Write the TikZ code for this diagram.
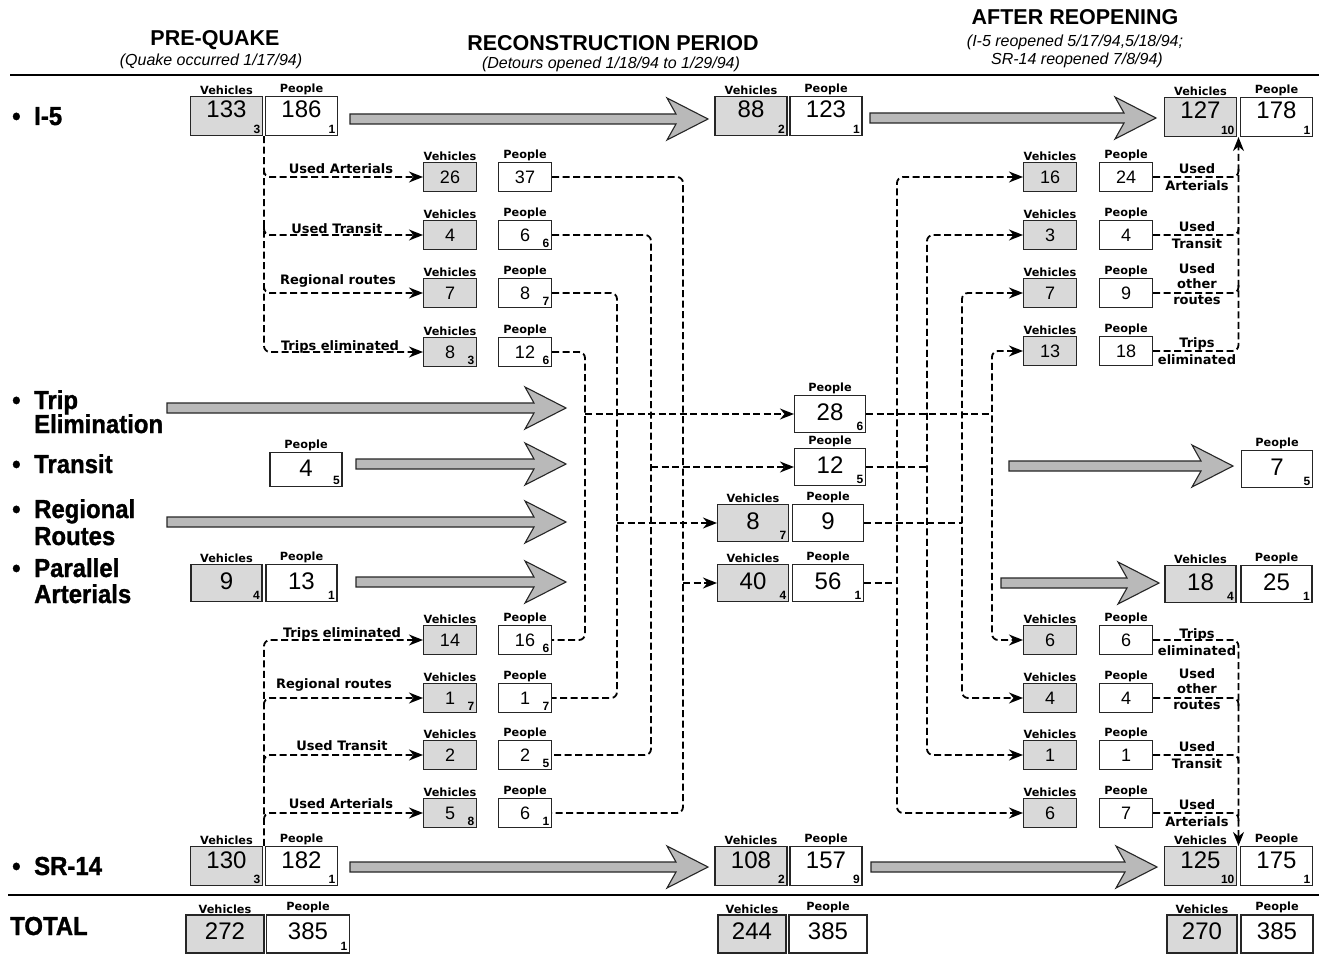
\documentclass[tikz,border=0pt]{standalone}
\usepackage{fontspec}
\setmainfont{Liberation Sans}
\newfontfamily\dvs{DejaVu Sans}
\newfontfamily\condb[FakeStretch=0.92,FakeBold=1.2]{Liberation Sans Bold}
\usetikzlibrary{arrows.meta,calc}

\newcommand\fnBig{\fontsize{24}{26}\selectfont}
\newcommand\fnSml{\fontsize{18}{20}\selectfont}
\newcommand\fnSub{\bfseries\fontsize{12}{12}\selectfont}
\newcommand\fnLab{\dvs\bfseries\fontsize{11.3}{12}\selectfont}
\newcommand\fnBr{\dvs\bfseries\fontsize{13}{14}\selectfont}
\newcommand\fnRow{\condb\fontsize{26}{28}\selectfont}
\newcommand\fnHd{\bfseries\fontsize{21.5}{23}\selectfont}
\newcommand\fnSh{\itshape\fontsize{16}{18}\selectfont}

\tikzset{
 box/.style={draw=black!85, line width=1.1pt, inner sep=0pt},
 vf/.style={fill=gray!30},
 pf/.style={fill=white},
 bigb/.style={box, minimum width=72, minimum height=39, font=\fnBig, text height=17pt, text depth=13pt},
 midb/.style={box, minimum width=71, minimum height=37, font=\fnBig, text height=17pt, text depth=4pt},
 totb/.style={box, minimum height=38, font=\fnBig, text height=17pt, text depth=6pt},
 smb/.style={box, minimum width=53, minimum height=29, font=\fnSml},
 lab/.style={font=\fnLab, inner sep=1pt},
 vl/.style={label={[lab]above:Vehicles}},
 pl/.style={label={[lab]above:People}},
 subl/.style={anchor=south east, font=\fnSub, inner sep=2.5pt},
 sb/.style={label={[subl]south east:#1}},
 dl/.style={line width=1.8pt, dash pattern=on 7pt off 3.5pt, rounded corners=6pt},
 fatarr/.style={draw=black!85, line width=1.1pt, fill=gray!55, line join=miter},
 brl/.style={font=\fnBr, anchor=base, inner sep=0pt},
 rl2/.style={font=\dvs\bfseries\fontsize{13}{17.5}\selectfont, align=center, inner sep=0pt},
 rl3/.style={font=\dvs\bfseries\fontsize{13}{15.5}\selectfont, align=center, inner sep=0pt},
 rowlab/.style={font=\fnRow, anchor=base west, inner sep=0pt},
 hd/.style={font=\fnHd, inner sep=0pt},
 shd/.style={font=\fnSh, inner sep=0pt},
}

\newcommand\fatarrow[3]{\draw[fatarr] (#1,#3+5) -- (#2-32,#3+5) -- (#2-41,#3+21) -- (#2,#3) -- (#2-41,#3-21) -- (#2-32,#3-5) -- (#1,#3-5) -- cycle;}

\begin{document}
\begin{tikzpicture}[x=1pt,y=-1pt,>={Stealth[length=14pt,width=11pt]}]
\fill[white] (0,0) rectangle (1320,955);
\path[use as bounding box] (0,0) rectangle (1320,955);

% headers
\node[hd] (h1) at (215,40) {PRE-QUAKE};
\node[shd] (h1s) at (211,61) {(Quake occurred 1/17/94)};
\node[hd] (h2) at (613,43) {RECONSTRUCTION PERIOD};
\node[shd] (h2s) at (611,64) {(Detours opened 1/18/94 to 1/29/94)};
\node[hd] (h3) at (1075,17) {AFTER REOPENING};
\node[shd] (h3s) at (1075,42) {(I-5 reopened 5/17/94,5/18/94;};
\node[shd] (h3t) at (1077,60) {SR-14 reopened 7/8/94)};
\draw[line width=2.6pt] (10,75) -- (1319,75);
\draw[line width=2.6pt] (8,895) -- (1319,895);

% row labels
\node[rowlab] (b1) at (12,125) {•}; \node[rowlab] (r1) at (34,125) {I-5};
\node[rowlab] (b2) at (12,409) {•}; \node[rowlab] (r2) at (34,409) {Trip};
\node[rowlab] (r2b) at (34,433) {Elimination};
\node[rowlab] (b3) at (12,473) {•}; \node[rowlab] (r3) at (34,473) {Transit};
\node[rowlab] (b4) at (12,518) {•}; \node[rowlab] (r4) at (34,518) {Regional};
\node[rowlab] (r4b) at (34,545) {Routes};
\node[rowlab] (b5) at (12,577) {•}; \node[rowlab] (r5) at (34,577) {Parallel};
\node[rowlab] (r5b) at (34,603) {Arterials};
\node[rowlab] (b6) at (12,875) {•}; \node[rowlab] (r6) at (34,875) {SR-14};
\node[rowlab] (r7) at (10,935) {TOTAL};

% fat arrows
\fatarrow{350}{708}{119}
\fatarrow{870}{1156}{118}
\fatarrow{167}{566}{408}
\fatarrow{356}{566}{464}
\fatarrow{167}{566}{522}
\fatarrow{356}{566}{582}
\fatarrow{1009}{1233}{466}
\fatarrow{1001}{1159}{583}
\fatarrow{350}{708}{867}
\fatarrow{871}{1157}{867}

% I-5 row
\node[bigb,vf,vl,sb=3] (v133) at (226.5,116) {133};
\node[bigb,pf,pl,sb=1] (p186) at (301.5,116) {186};
\node[bigb,vf,vl,sb=2] (v88) at (751,116) {88};
\node[bigb,pf,pl,sb=1] (p123) at (826,116) {123};
\node[bigb,vf,vl,sb=10] (v127) at (1200.5,117) {127};
\node[bigb,pf,pl,sb=1] (p178) at (1276.5,117) {178};

% SR-14 row
\node[bigb,vf,vl,sb=3] (v130) at (226.5,866) {130};
\node[bigb,pf,pl,sb=1] (p182) at (301.5,866) {182};
\node[bigb,vf,vl,sb=2] (v108) at (751,866) {108};
\node[bigb,pf,pl,sb=9] (p157) at (826,866) {157};
\node[bigb,vf,vl,sb=10] (v125) at (1200.5,866) {125};
\node[bigb,pf,pl,sb=1] (p175) at (1276.5,866) {175};

% totals
\node[totb,vf,vl,minimum width=78] (v272) at (225,934) {272};
\node[totb,pf,pl,sb=1,minimum width=83] (p385a) at (308,934) {385};
\node[totb,vf,vl,minimum width=68] (v244) at (752,934) {244};
\node[totb,pf,pl,minimum width=78] (p385b) at (828,934) {385};
\node[totb,vf,vl,minimum width=70] (v270) at (1202,934) {270};
\node[totb,pf,pl,minimum width=72] (p385c) at (1277,934) {385};

% middle rows
\node[midb,pf,pl,sb=5,minimum width=72,minimum height=34] (p4) at (306,469.5) {4};
\node[midb,vf,vl,sb=4] (v9) at (226.5,583) {9};
\node[midb,pf,pl,sb=1] (p13) at (301.5,583) {13};
\node[midb,pf,pl,sb=6] (p28) at (830,414) {28};
\node[midb,pf,pl,sb=5] (p12r) at (830,467) {12};
\node[midb,vf,vl,sb=7] (v8r) at (753,523) {8};
\node[midb,pf,pl] (p9r) at (828,523) {9};
\node[midb,vf,vl,sb=4] (v40) at (753,583) {40};
\node[midb,pf,pl,sb=1] (p56) at (828,583) {56};
\node[midb,pf,pl,sb=5] (p7) at (1277,469) {7};
\node[midb,vf,vl,sb=4] (v18) at (1200.5,584) {18};
\node[midb,pf,pl,sb=1] (p25) at (1276.5,584) {25};

% top-left small boxes
\node[smb,vf,vl] (tlv1) at (450,177) {26};
\node[smb,pf,pl] (tlp1) at (525,177) {37};
\node[smb,vf,vl] (tlv2) at (450,235) {4};
\node[smb,pf,pl,sb=6] (tlp2) at (525,235) {6};
\node[smb,vf,vl] (tlv3) at (450,293) {7};
\node[smb,pf,pl,sb=7] (tlp3) at (525,293) {8};
\node[smb,vf,vl,sb=3] (tlv4) at (450,352) {8};
\node[smb,pf,pl,sb=6] (tlp4) at (525,352) {12};

% bottom-left small boxes
\node[smb,vf,vl] (blv1) at (450,640) {14};
\node[smb,pf,pl,sb=6] (blp1) at (525,640) {16};
\node[smb,vf,vl,sb=7] (blv2) at (450,698) {1};
\node[smb,pf,pl,sb=7] (blp2) at (525,698) {1};
\node[smb,vf,vl] (blv3) at (450,755) {2};
\node[smb,pf,pl,sb=5] (blp3) at (525,755) {2};
\node[smb,vf,vl,sb=8] (blv4) at (450,813) {5};
\node[smb,pf,pl,sb=1] (blp4) at (525,813) {6};

% top-right small boxes
\node[smb,vf,vl] (trv1) at (1050,177) {16};
\node[smb,pf,pl] (trp1) at (1126,177) {24};
\node[smb,vf,vl] (trv2) at (1050,235) {3};
\node[smb,pf,pl] (trp2) at (1126,235) {4};
\node[smb,vf,vl] (trv3) at (1050,293) {7};
\node[smb,pf,pl] (trp3) at (1126,293) {9};
\node[smb,vf,vl] (trv4) at (1050,351) {13};
\node[smb,pf,pl] (trp4) at (1126,351) {18};

% bottom-right small boxes
\node[smb,vf,vl] (brv1) at (1050,640) {6};
\node[smb,pf,pl] (brp1) at (1126,640) {6};
\node[smb,vf,vl] (brv2) at (1050,698) {4};
\node[smb,pf,pl] (brp2) at (1126,698) {4};
\node[smb,vf,vl] (brv3) at (1050,755) {1};
\node[smb,pf,pl] (brp3) at (1126,755) {1};
\node[smb,vf,vl] (brv4) at (1050,813) {6};
\node[smb,pf,pl] (brp4) at (1126,813) {7};

% split points
\coordinate (i5s) at ($(v133.south east)!0.5!(p186.south west)$);
\coordinate (srs) at ($(v130.north east)!0.5!(p182.north west)$);
\coordinate (i5j) at ($(v127.south east)!0.5!(p178.south west)$);
\coordinate (srj) at ($(v125.north east)!0.5!(p175.north west)$);
\coordinate (cA) at (585,0);
\coordinate (cB) at (617,0);
\coordinate (cC) at (651,0);
\coordinate (cD) at (683,0);
\coordinate (cE) at (897,0);
\coordinate (cF) at (927,0);
\coordinate (cG) at (962,0);
\coordinate (cH) at (992,0);

% I-5 split to the left small boxes
\draw[dl,->] (i5s) |- (tlv4.west);
\draw[dl,->] ($(i5s |- tlv1.west)+(0,-8)$) |- (tlv1.west);
\draw[dl,->] ($(i5s |- tlv2.west)+(0,-8)$) |- (tlv2.west);
\draw[dl,->] ($(i5s |- tlv3.west)+(0,-8)$) |- (tlv3.west);
% SR-14 split
\draw[dl,->] (srs) |- (blv1.west);
\draw[dl,->] ($(srs |- blv2.west)+(0,8)$) |- (blv2.west);
\draw[dl,->] ($(srs |- blv3.west)+(0,8)$) |- (blv3.west);
\draw[dl,->] ($(srs |- blv4.west)+(0,8)$) |- (blv4.west);

% left branch labels
\node[brl] (lt1) at (341,174) {Used Arterials};
\node[brl] (lt2) at (337,233) {Used Transit};
\node[brl] (lt3) at (338,284) {Regional routes};
\node[brl] (lt4) at (340,350) {Trips eliminated};
\node[brl] (lb1) at (342,637) {Trips eliminated};
\node[brl] (lb2) at (334,688) {Regional routes};
\node[brl] (lb3) at (342,750) {Used Transit};
\node[brl] (lb4) at (341,808) {Used Arterials};

% left columns into reconstruction boxes
\draw[dl] (tlp4.east) -| (cA |- blp1.east) -- (blp1.east);
\draw[dl,->] (cA |- p28.west) -- (p28.west);
\draw[dl] (tlp3.east) -| (cB |- blp2.east) -- (blp2.east);
\draw[dl,->] (cB |- v8r.west) -- (v8r.west);
\draw[dl] (tlp2.east) -| (cC |- blp3.east) -- (blp3.east);
\draw[dl,->] (cC |- p12r.west) -- (p12r.west);
\draw[dl] (tlp1.east) -| (cD |- blp4.east) -- (blp4.east);
\draw[dl,->] (cD |- v40.west) -- (v40.west);

% right columns out of reconstruction boxes
\draw[dl,<->] (trv1.west) -| (cE |- brv4.west) -- (brv4.west);
\draw[dl] (p56.east) -- (cE |- p56.east);
\draw[dl,<->] (trv2.west) -| (cF |- brv3.west) -- (brv3.west);
\draw[dl] (p12r.east) -- (cF |- p12r.east);
\draw[dl,<->] (trv3.west) -| (cG |- brv2.west) -- (brv2.west);
\draw[dl] (p9r.east) -- (cG |- p9r.east);
\draw[dl,<->] (trv4.west) -| (cH |- brv1.west) -- (brv1.west);
\draw[dl] (p28.east) -- (cH |- p28.east);

% right groups into after-reopening boxes
\draw[dl,->] (trp4.east) -| (i5j);
\draw[dl] (trp1.east) -| ($(i5j |- trp1.east)+(0,-8)$);
\draw[dl] (trp2.east) -| ($(i5j |- trp2.east)+(0,-8)$);
\draw[dl] (trp3.east) -| ($(i5j |- trp3.east)+(0,-8)$);
\draw[dl,->] (brp1.east) -| (srj);
\draw[dl] (brp2.east) -| ($(srj |- brp2.east)+(0,8)$);
\draw[dl] (brp3.east) -| ($(srj |- brp3.east)+(0,8)$);
\draw[dl] (brp4.east) -| ($(srj |- brp4.east)+(0,8)$);

% right branch labels
\node[rl2] (rt1) at (1197,177) {Used\\Arterials};
\node[rl2] (rt2) at (1197,235) {Used\\Transit};
\node[rl3] (rt3) at (1197,284) {Used\\other\\routes};
\node[rl2] (rt4) at (1197,351) {Trips\\eliminated};
\node[rl2] (rb1) at (1197,642) {Trips\\eliminated};
\node[rl3] (rb2) at (1197,689) {Used\\other\\routes};
\node[rl2] (rb3) at (1197,755) {Used\\Transit};
\node[rl2] (rb4) at (1197,813) {Used\\Arterials};
\end{tikzpicture}
\end{document}
